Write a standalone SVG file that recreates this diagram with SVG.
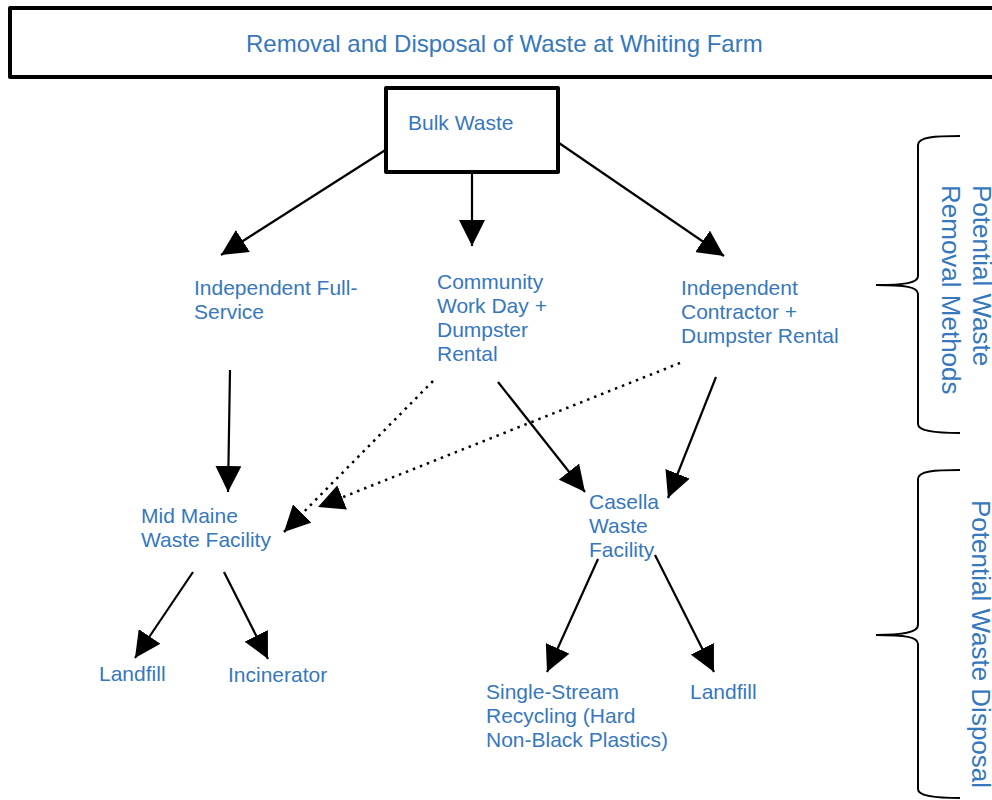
<svg xmlns="http://www.w3.org/2000/svg" width="992" height="800" viewBox="0 0 992 800">
  <style>
    .t { font-family: "Liberation Sans", Arial, sans-serif; font-size: 21px; fill: #3777BC; }
    .title { font-size: 24px; }
    .side { font-size: 26px; }
    .box { fill: #ffffff; stroke: #000000; stroke-width: 4; stroke-linejoin: round; }
    .ln { stroke: #000000; stroke-width: 2.2; fill: none; marker-end: url(#ah); }
    .dot { stroke: #000000; stroke-width: 2.5; fill: none; stroke-dasharray: 2.5 5; marker-end: url(#ah); }
    .brace { stroke: #000000; stroke-width: 2; fill: none; }
  </style>
  <defs>
    <marker id="ah" markerUnits="userSpaceOnUse" markerWidth="26" markerHeight="26" refX="26" refY="13" orient="auto">
      <path d="M0,0 L26,13 L0,26 Z" fill="#000000"/>
    </marker>
  </defs>
  <rect width="992" height="800" fill="#ffffff"/>

  <g id="title">
    <rect class="box" x="10" y="8" width="1000" height="69"/>
    <text class="t title" x="246" y="52">Removal and Disposal of Waste at Whiting Farm</text>
  </g>

  <g id="connectors">
    <line class="ln" x1="387" y1="149" x2="221" y2="255"/>
    <line class="ln" x1="472" y1="172" x2="472" y2="246"/>
    <line class="ln" x1="559" y1="143" x2="724" y2="256"/>
    <line class="ln" x1="230" y1="370" x2="228" y2="492"/>
    <line class="dot" x1="433" y1="381" x2="284" y2="532"/>
    <line class="dot" x1="680" y1="363" x2="318" y2="507"/>
    <line class="ln" x1="498" y1="382" x2="585" y2="492"/>
    <line class="ln" x1="716" y1="377" x2="668" y2="498"/>
    <line class="ln" x1="193" y1="572" x2="135" y2="658"/>
    <line class="ln" x1="224" y1="572" x2="268" y2="659"/>
    <line class="ln" x1="598" y1="559" x2="547" y2="672"/>
    <line class="ln" x1="655" y1="555" x2="714" y2="672"/>
  </g>

  <g id="bulk-waste">
    <rect class="box" x="386" y="88" width="172" height="84"/>
    <text class="t" x="408" y="130">Bulk Waste</text>
  </g>

  <g id="independent-full-service">
    <text class="t" x="194" y="295">Independent Full-</text>
    <text class="t" x="194" y="319">Service</text>
  </g>

  <g id="community-work-day">
    <text class="t" x="437" y="289">Community</text>
    <text class="t" x="437" y="313">Work Day +</text>
    <text class="t" x="437" y="337">Dumpster</text>
    <text class="t" x="437" y="361">Rental</text>
  </g>

  <g id="independent-contractor">
    <text class="t" x="681" y="295">Independent</text>
    <text class="t" x="681" y="319">Contractor +</text>
    <text class="t" x="681" y="343">Dumpster Rental</text>
  </g>

  <g id="mid-maine">
    <text class="t" x="141" y="523">Mid Maine</text>
    <text class="t" x="141" y="547">Waste Facility</text>
  </g>

  <g id="casella">
    <text class="t" x="589" y="509">Casella</text>
    <text class="t" x="589" y="533">Waste</text>
    <text class="t" x="589" y="557">Facility</text>
  </g>

  <g id="landfill-1">
    <text class="t" x="99" y="681">Landfill</text>
  </g>

  <g id="incinerator">
    <text class="t" x="228" y="682">Incinerator</text>
  </g>

  <g id="single-stream">
    <text class="t" x="486" y="699">Single-Stream</text>
    <text class="t" x="486" y="723">Recycling (Hard</text>
    <text class="t" x="486" y="747">Non-Black Plastics)</text>
  </g>

  <g id="landfill-2">
    <text class="t" x="690" y="699">Landfill</text>
  </g>

  <g id="brace-removal">
    <path class="brace" d="M960,136 C935,136 918,137 918,145 L918,276 C918,283 905,285 876,285 C905,285 918,287 918,294 L918,424 C918,431 935,433 960,433"/>
    <text class="t side" transform="translate(973,185) rotate(90)">Potential Waste</text>
    <text class="t side" transform="translate(942,185) rotate(90)">Removal Methods</text>
  </g>

  <g id="brace-disposal">
    <path class="brace" d="M960,470 C935,470 918,471 918,479 L918,625 C918,632 905,635 876,635 C905,635 918,637 918,644 L918,789 C918,796 935,798 960,798"/>
    <text class="t side" transform="translate(972,500) rotate(90)">Potential Waste Disposal</text>
  </g>
</svg>
